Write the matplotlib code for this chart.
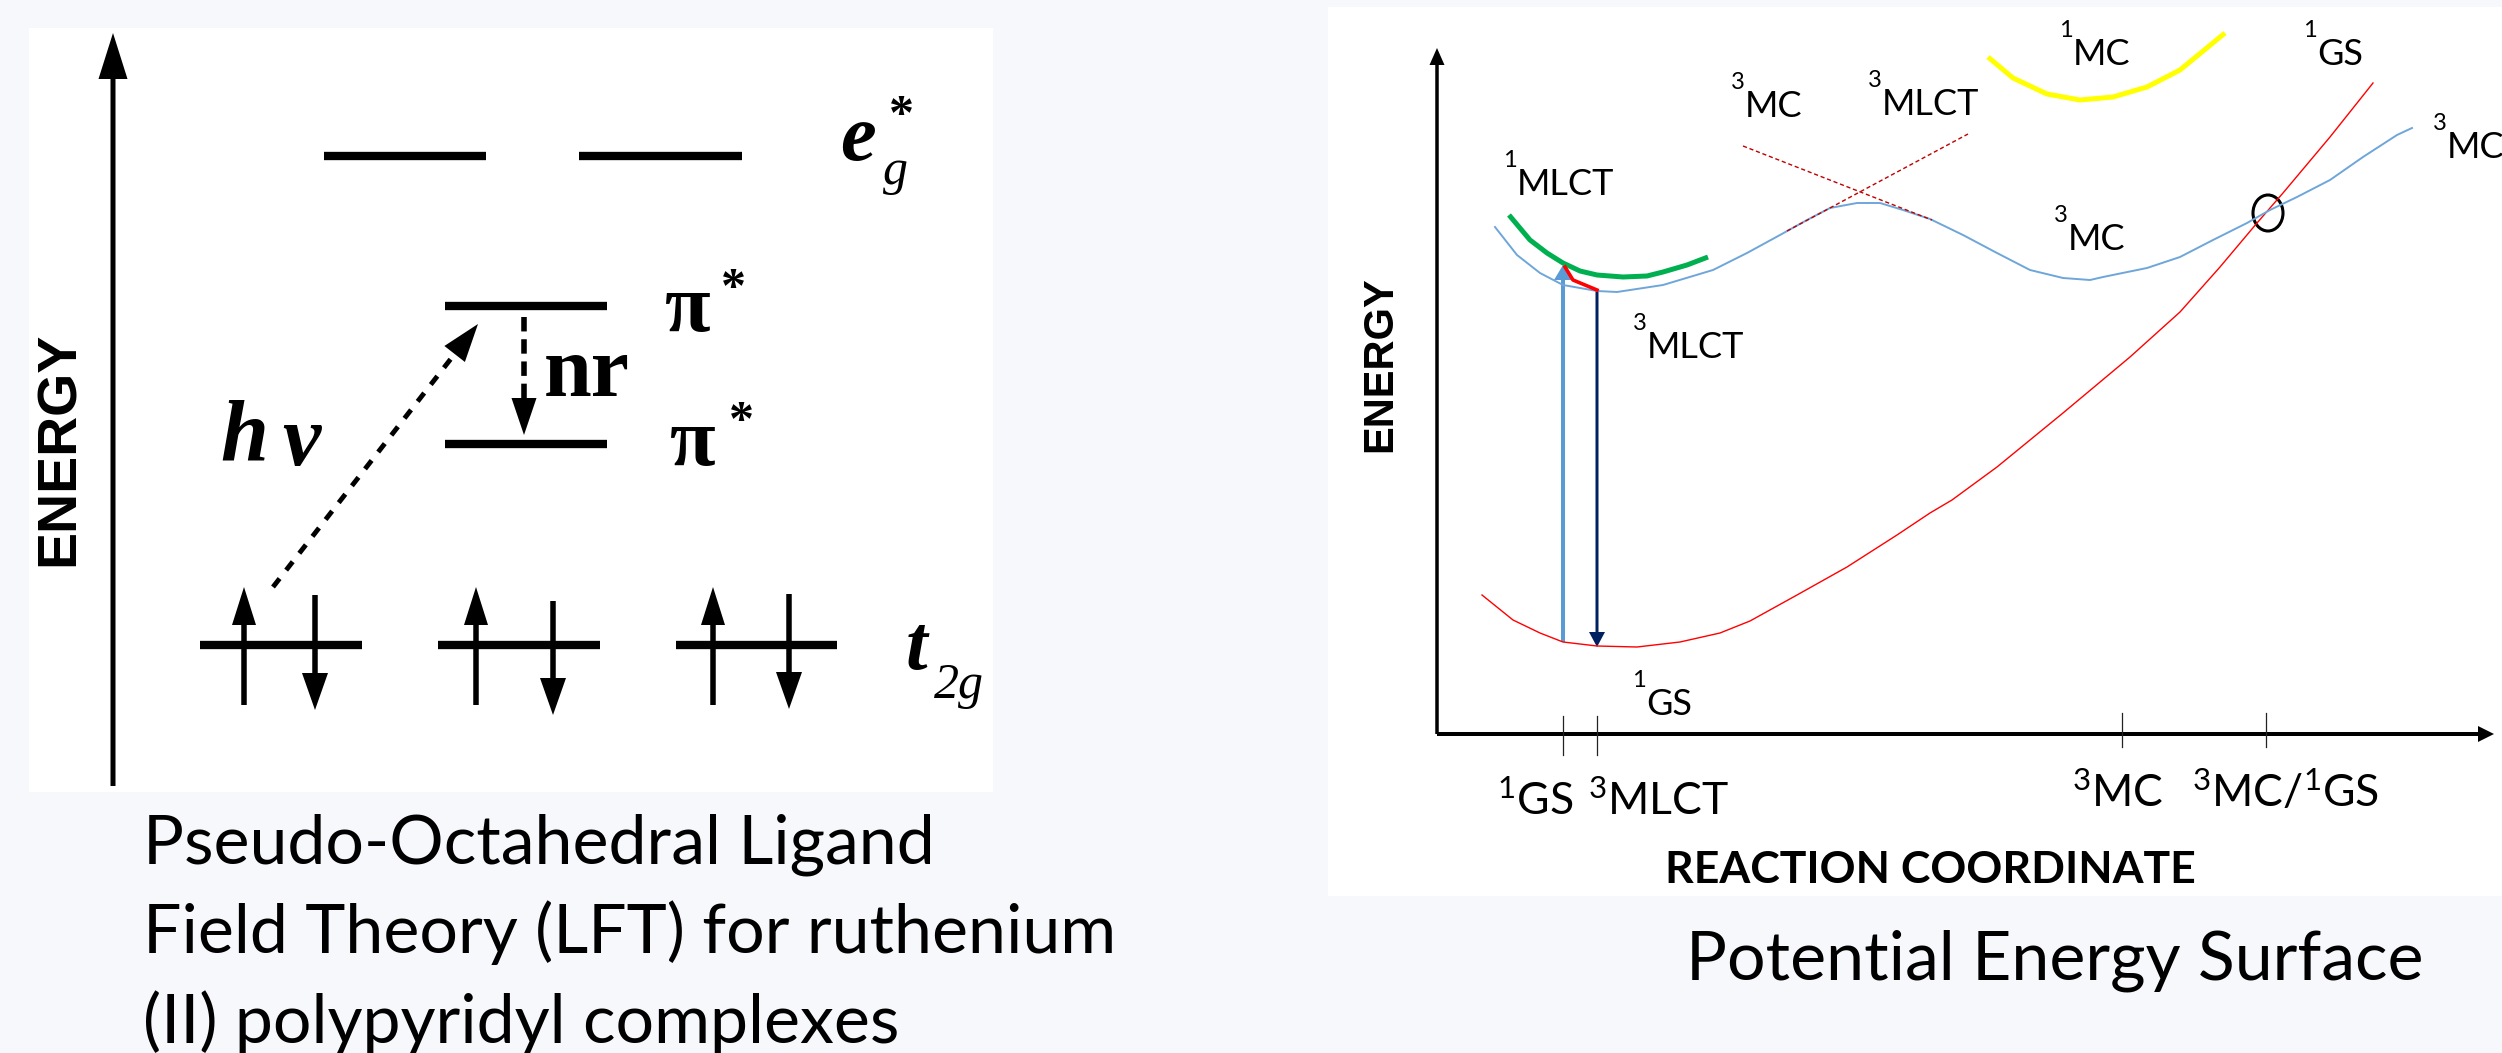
import matplotlib.pyplot as plt
from matplotlib.patches import Ellipse

plt.rcParams['mathtext.fontset'] = 'custom'
plt.rcParams['mathtext.rm'] = 'Lato'
plt.rcParams['mathtext.it'] = 'Lato:italic'
plt.rcParams['mathtext.bf'] = 'Lato:bold'

W, H = 2502, 1053
BG = '#f6f8fc'

# ---------------- left panel : orbital diagram (1 unit = 10 px) ----------------
eg_y = 63.6
eg_x = [(29.5, 45.7), (55.0, 71.3)]
pi_y = [48.6, 34.8]
pi_x = (41.6, 57.8)
t2g_y = 14.7
t2g_x = [(17.1, 33.3), (40.9, 57.1), (64.7, 80.8)]
spin_up_x = [21.5, 44.7, 68.4]
spin_up_y = (8.7, 20.5)
spin_dn_x = [28.6, 52.4, 76.0]
spin_dn_top = [19.7, 19.1, 19.8]
spin_dn_tip = [8.2, 7.7, 8.3]
hv_start = (24.4, 20.5)
hv_end = (44.9, 46.8)
nr_x = 49.5
nr_y = (47.5, 35.7)
energy_x = 8.4
energy_y = (0.6, 75.9)

# ---------------- right panel : potential energy surface (1 unit = 10 px) -------
blue_x = [16.7, 18.9, 21.2, 23.5, 26.9, 28.9, 33.5, 38.5, 41.9, 45.2, 47.9, 50.2,
          52.9, 55.2, 57.5, 60.2, 63.5, 66.9, 70.2, 73.5, 76.2, 77.5, 81.9, 85.2,
          88.5, 91.9, 94.2, 96.9, 100.2, 103.5, 106.9, 108.4]
blue_y = [66.9, 64.1, 62.3, 61.1, 60.5, 60.4, 61.1, 62.6, 64.3, 66.1, 67.6, 68.8,
          69.3, 69.3, 68.6, 67.7, 66.1, 64.3, 62.6, 61.8, 61.6, 61.9, 62.8, 63.9,
          65.6, 67.3, 68.6, 69.9, 71.6, 73.9, 76.1, 76.8]
green_x = [18.1, 20.2, 21.9, 23.5, 25.2, 26.9, 29.5, 31.9, 33.5, 35.9, 38.0]
green_y = [68.1, 65.6, 64.3, 63.3, 62.5, 62.1, 61.9, 62.0, 62.4, 63.1, 63.9]
yellow_x = [66.0, 68.5, 71.9, 75.2, 78.5, 81.9, 85.2, 89.7]
yellow_y = [83.9, 81.8, 80.2, 79.6, 79.9, 80.9, 82.6, 86.3]
red_x = [15.4, 18.5, 21.2, 23.5, 26.9, 30.9, 35.2, 39.2, 42.2, 46.9, 51.9, 56.9,
         60.2, 62.4, 66.9, 73.5, 80.2, 85.2, 89.2, 92.9, 95.5, 100.2, 104.5]
red_y = [30.1, 27.6, 26.3, 25.4, 25.0, 24.9, 25.4, 26.3, 27.5, 30.1, 32.9, 36.1,
         38.3, 39.6, 42.9, 48.3, 53.9, 58.4, 62.9, 67.3, 70.3, 75.9, 81.3]
cross_a_x, cross_a_y = [41.5, 60.4], [75.0, 67.6]
cross_b_x, cross_b_y = [45.9, 64.0], [66.5, 76.2]
relax_x, relax_y = [23.7, 24.5, 26.9], [62.9, 61.6, 60.6]
absorb_x, absorb_y = 23.5, (25.4, 63.1)
emit_x, emit_y = 26.9, (60.6, 24.9)
mecp = (94.0, 68.3)
origin = (10.9, 16.2)
x_tip, y_tip = 116.6, 84.8
tick_x = [23.5, 26.9, 79.4, 93.8]
tick_lo = [14.1, 14.1, 14.9, 14.9]
tick_hi = [18.0, 18.0, 18.3, 18.3]
tick_labels = ['$^{1}$GS', '$^{3}$MLCT', '$^{3}$MC', '$^{3}$MC/$^{1}$GS']
tick_label_x = [16.9, 26.0, 74.4, 86.4]
tick_label_y = [8.1, 8.1, 8.9, 8.9]
state_sup = ['1', '3', '3', '1', '1', '3', '3', '3', '1']
state_name = ['MLCT', 'MC', 'MLCT', 'MC', 'GS', 'MC', 'MC', 'MLCT', 'GS']
state_x = [18.9, 41.7, 55.4, 74.5, 98.9, 111.9, 74.0, 31.9, 31.8]
state_y = [70.1, 77.9, 78.1, 83.1, 83.1, 73.8, 64.6, 53.8, 18.1]

fig = plt.figure(figsize=(W / 100, H / 100), dpi=100, facecolor=BG)


def panel(x0, y0, x1, y1):
    ax = fig.add_axes([x0 / W, 1 - y1 / H, (x1 - x0) / W, (y1 - y0) / H])
    ax.set_xlim(0, (x1 - x0) / 10)
    ax.set_ylim(0, (y1 - y0) / 10)
    ax.set_facecolor('white')
    ax.set_xticks([])
    ax.set_yticks([])
    for s in ax.spines.values():
        s.set_visible(False)
    return ax


def head(ax, x, y, dx, dy, length, width, color='black'):
    n = (dx ** 2 + dy ** 2) ** 0.5
    ux, uy = dx / n, dy / n
    ax.arrow(x - ux * length, y - uy * length, ux * length, uy * length, width=0,
             head_width=width, head_length=length, length_includes_head=True,
             color=color, lw=0)


# ---------------- left panel ----------------
axl = panel(29, 28, 993, 792)
axl.arrow(energy_x, energy_y[0], 0, energy_y[1] - energy_y[0], width=0.5,
          head_width=2.9, head_length=4.6, length_includes_head=True, color='black', lw=0)
for a, b in eg_x:
    axl.plot([a, b], [eg_y, eg_y], color='black', lw=6, solid_capstyle='butt')
for y in pi_y:
    axl.plot(pi_x, [y, y], color='black', lw=6, solid_capstyle='butt')
for a, b in t2g_x:
    axl.plot([a, b], [t2g_y, t2g_y], color='black', lw=6, solid_capstyle='butt')
for x in spin_up_x:
    axl.arrow(x, spin_up_y[0], 0, spin_up_y[1] - spin_up_y[0], width=0.55,
              head_width=2.4, head_length=3.8, length_includes_head=True, color='black', lw=0)
for x, t, b in zip(spin_dn_x, spin_dn_top, spin_dn_tip):
    axl.arrow(x, t, 0, b - t, width=0.55, head_width=2.6, head_length=3.7,
              length_includes_head=True, color='black', lw=0)

dx, dy = hv_end[0] - hv_start[0], hv_end[1] - hv_start[1]
f = 1 - 3.5 / (dx ** 2 + dy ** 2) ** 0.5
axl.plot([hv_start[0], hv_start[0] + dx * f], [hv_start[1], hv_start[1] + dy * f],
         color='black', lw=3.5, dashes=(2.2, 2.2))
head(axl, hv_end[0], hv_end[1], dx, dy, 3.8, 2.6)
axl.plot([nr_x, nr_x], [nr_y[0], nr_y[1] + 3.5], color='black', lw=4, dashes=(2.6, 1.4))
head(axl, nr_x, nr_y[1], 0, -1, 3.7, 2.5)

serif = 'Liberation Serif'
axl.text(82.9, 65.2, 'e', family=serif, weight='bold', style='italic', size=58,
         ha='center', va='center')
axl.text(87.2, 67.5, '*', family=serif, weight='bold', size=36, ha='center', va='center')
axl.text(86.6, 62.0, 'g', family=serif, style='italic', size=36, ha='center', va='center')
for (px, py), (sx, sy) in zip([(65.9, 48.1), (66.4, 34.6)], [(70.4, 50.2), (71.2, 36.9)]):
    axl.text(px, py, 'π', family=serif, weight='bold', size=60, ha='center', va='center')
    axl.text(sx, sy, '*', family=serif, weight='bold', size=36, ha='center', va='center')
axl.text(55.8, 41.6, 'nr', family=serif, weight='bold', size=62, ha='center', va='center')
axl.text(21.5, 35.3, 'h', family=serif, weight='bold', style='italic', size=62,
         ha='center', va='center')
axl.text(27.2, 34.7, 'ν', family=serif, weight='bold', style='italic', size=62,
         ha='center', va='center')
axl.text(88.7, 14.2, 't', family=serif, weight='bold', style='italic', size=56,
         ha='center', va='center')
axl.text(93.0, 10.6, '2g', family=serif, style='italic', size=36, ha='center', va='center')
axl.text(3.1, 34.3, 'ENERGY', family='Liberation Sans', weight='bold', size=40,
         rotation=90, ha='center', va='center')

# ---------------- right panel ----------------
axr = panel(1328, 7, 2502, 896)
axr.arrow(origin[0], origin[1], 0, y_tip - origin[1], width=0.35, head_width=1.5,
          head_length=1.7, length_includes_head=True, color='black', lw=0)
axr.arrow(origin[0], origin[1], x_tip - origin[0], 0, width=0.4, head_width=1.6,
          head_length=1.6, length_includes_head=True, color='black', lw=0)
for x, lo, hi in zip(tick_x, tick_lo, tick_hi):
    axr.plot([x, x], [lo, hi], color='#222222', lw=0.9)

axr.plot(red_x, red_y, color='#ff0000', lw=1.0)
axr.plot(blue_x, blue_y, color='#6fa6da', lw=1.4)
axr.plot(green_x, green_y, color='#00b050', lw=3.6, solid_capstyle='butt')
axr.plot(yellow_x, yellow_y, color='#ffff00', lw=3.6, solid_capstyle='butt')
axr.plot(cross_a_x, cross_a_y, color='#c00000', lw=1.0, dashes=(3, 2))
axr.plot(cross_b_x, cross_b_y, color='#c00000', lw=1.0, dashes=(3, 2))
axr.plot(relax_x, relax_y, color='#ff0000', lw=2.6)
axr.arrow(absorb_x, absorb_y[0], 0, absorb_y[1] - absorb_y[0], width=0.4,
          head_width=1.8, head_length=1.5, length_includes_head=True, color='#5b9bd5', lw=0)
axr.arrow(emit_x, emit_y[0], 0, emit_y[1] - emit_y[0], width=0.3,
          head_width=1.6, head_length=1.5, length_includes_head=True, color='#002060', lw=0)
axr.add_patch(Ellipse(mecp, 3.0, 3.6, fill=False, edgecolor='black', lw=2.2))

for sup, name, x, y in zip(state_sup, state_name, state_x, state_y):
    axr.text(x, y, name, family='Lato', size=26, ha='left', va='baseline', clip_on=False)
    axr.text(x - 1.4, y + 2.8, sup, family='Lato', size=17, ha='left', va='baseline',
             clip_on=False)
for lab, x, y in zip(tick_labels, tick_label_x, tick_label_y):
    axr.text(x, y, lab, family='Lato', size=32, ha='left', va='baseline')
axr.text(33.7, 1.3, 'REACTION COORDINATE', family='Lato', weight='bold', size=32,
         ha='left', va='baseline')
axr.text(5.2, 53.2, 'ENERGY', family='Liberation Sans', weight='bold', size=30,
         rotation=90, ha='center', va='center')

# ---------------- captions ----------------
captions = ['Pseudo-Octahedral Ligand', 'Field Theory (LFT) for ruthenium',
            '(II) polypyridyl complexes']
for i, line in enumerate(captions):
    fig.text(143 / W, 1 - (863 + 90 * i) / H, line, family='Lato', size=49,
             ha='left', va='baseline')
fig.text(1686 / W, 1 - 980 / H, 'Potential Energy Surface', family='Lato', size=49,
         ha='left', va='baseline')

fig.savefig('out.png', dpi=100, facecolor=BG)
